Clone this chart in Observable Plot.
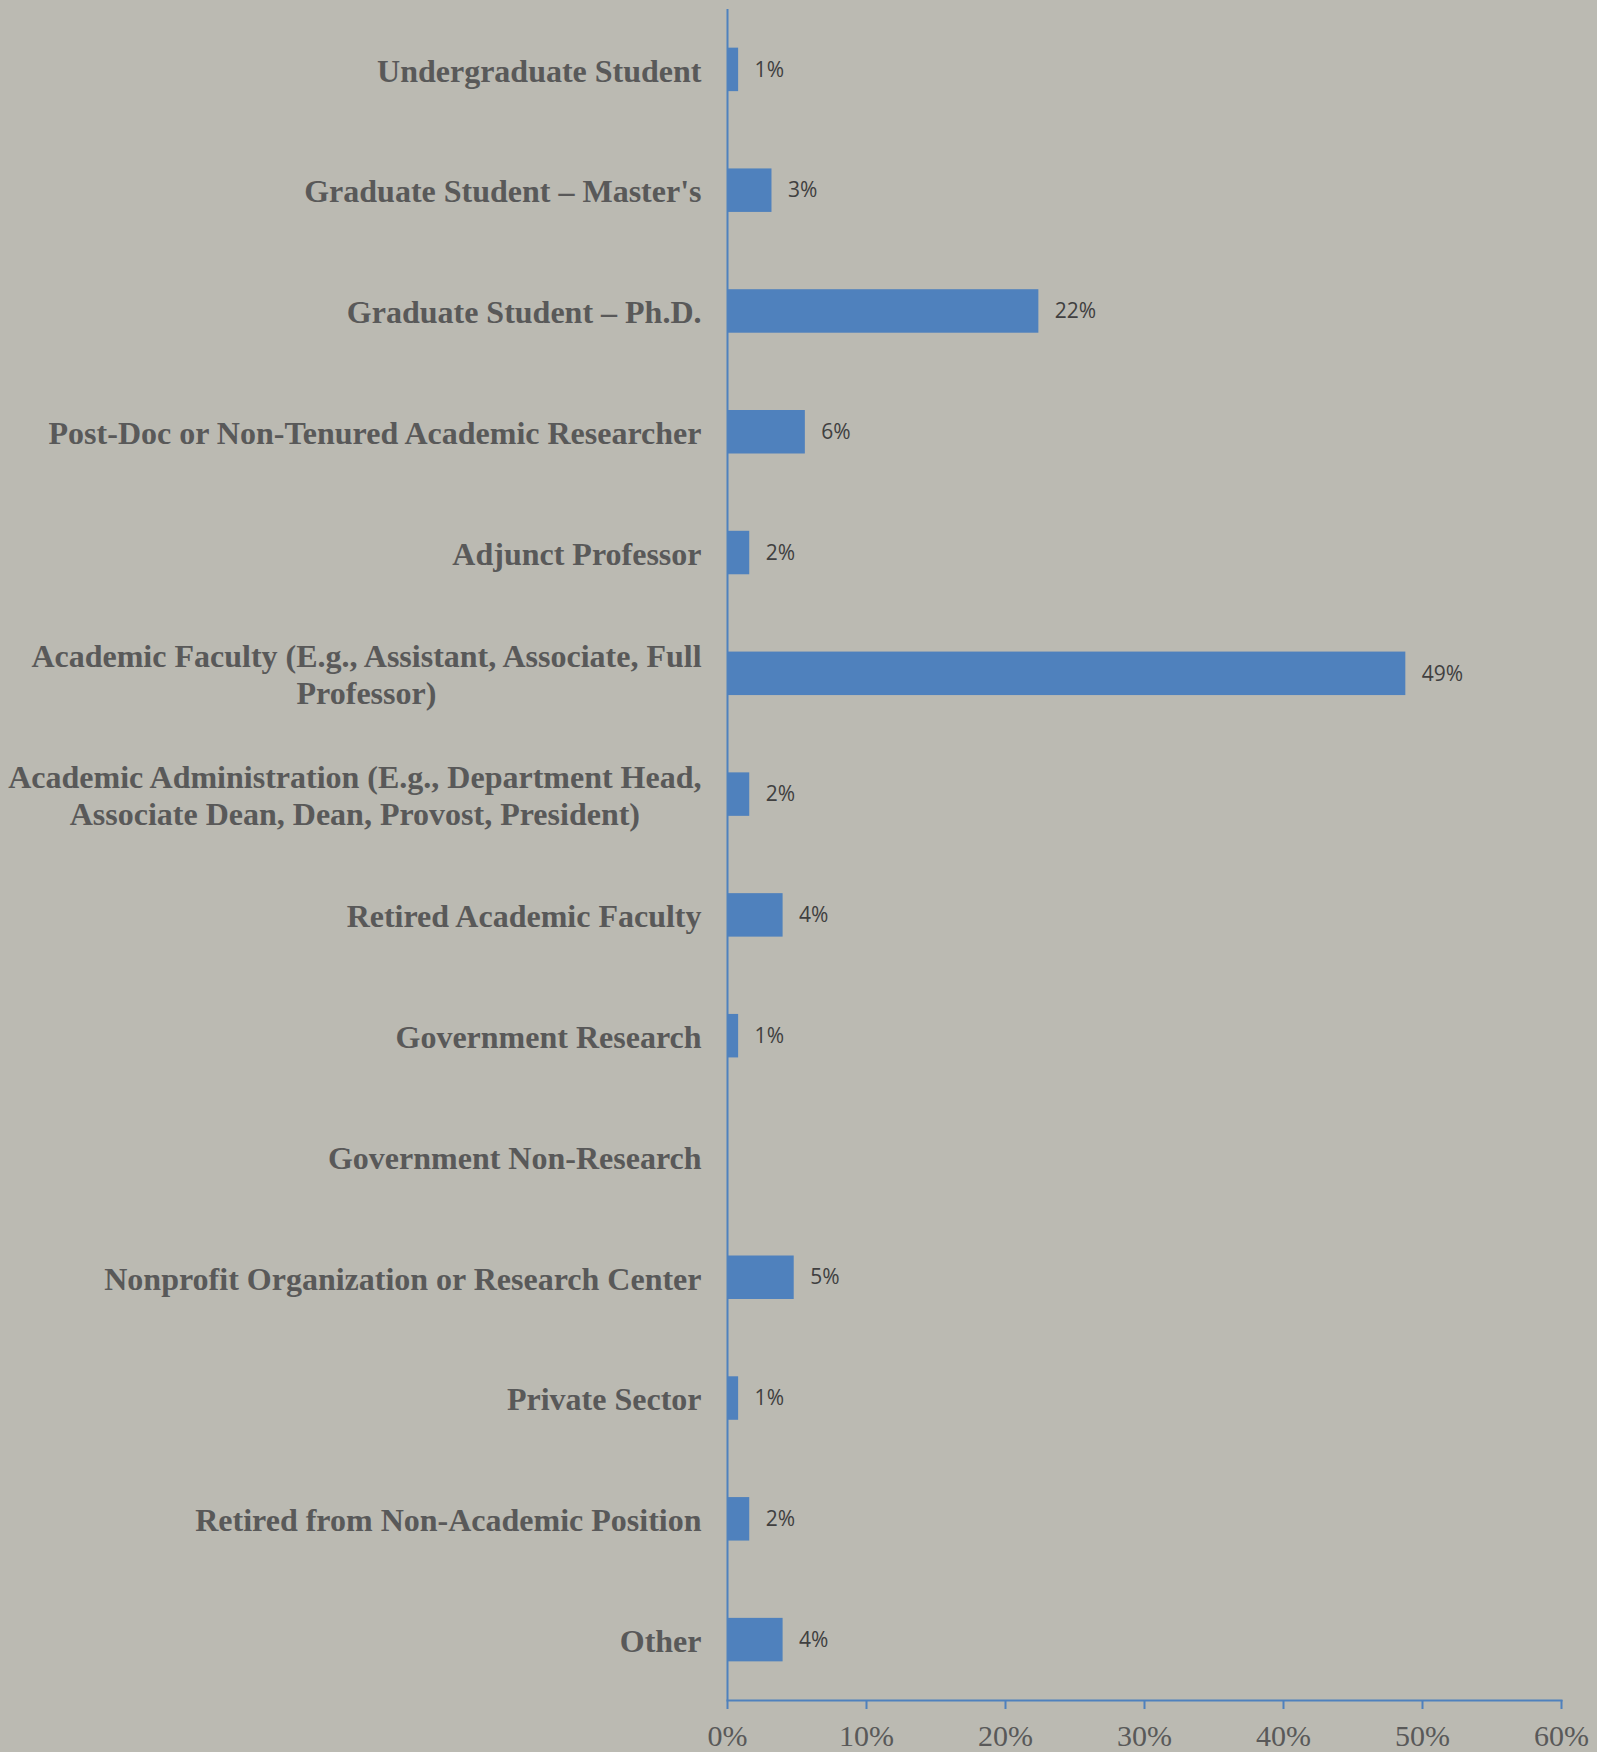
<!DOCTYPE html>
<html>
<head>
<meta charset="utf-8">
<script src="https://cdn.jsdelivr.net/npm/d3@7"></script>
<script src="https://cdn.jsdelivr.net/npm/@observablehq/plot@0.6"></script>
<style>
  html, body { margin: 0; padding: 0; background: #bbbab2; }
  #chart svg { display: block; }
</style>
</head>
<body>
<div id="chart"></div>
<script>
const categories = [
  "Undergraduate Student",
  "Graduate Student \u2013 Master's",
  "Graduate Student \u2013 Ph.D.",
  "Post-Doc or Non-Tenured Academic Researcher",
  "Adjunct Professor",
  "Academic Faculty (E.g., Assistant, Associate, Full\nProfessor)",
  "Academic Administration (E.g., Department Head,\nAssociate Dean, Dean, Provost, President)",
  "Retired Academic Faculty",
  "Government Research",
  "Government Non-Research",
  "Nonprofit Organization or Research Center",
  "Private Sector",
  "Retired from Non-Academic Position",
  "Other"
];
const values = [0.8, 3.2, 22.4, 5.6, 1.6, 48.8, 1.6, 4.0, 0.8, 0, 4.8, 0.8, 1.6, 4.0];
const valueLabels = ["1%", "3%", "22%", "6%", "2%", "49%", "2%", "4%", "1%", "", "5%", "1%", "2%", "4%"];
const xTicks = [0, 10, 20, 30, 40, 50, 60];

const data = categories.map((c, i) => ({category: c, value: values[i], label: valueLabels[i]}));

const blue = "#4f81bd";
const gray = "#595959";

const chart = Plot.plot({
  width: 1597,
  height: 1752,
  marginLeft: 727,
  marginRight: 36,
  marginTop: 9,
  marginBottom: 52,
  style: {background: "#bbbab2", color: gray},
  x: {domain: [0, 60], label: null},
  y: {domain: categories, paddingInner: 0.64, paddingOuter: 0.32, round: false, label: null},
  marks: [
    Plot.barX(data, {x: "value", y: "category", fill: blue}),
    Plot.text(data.filter(d => d.label), {
      x: "value", y: "category", text: "label", textAnchor: "start", dx: 16,
      fontFamily: "Open Sans", fontSize: 21, fill: "#404040"
    }),
    Plot.ruleX([0], {stroke: blue, strokeWidth: 2}),
    Plot.frame({anchor: "bottom", stroke: blue, strokeWidth: 2}),
    Plot.axisX(xTicks, {tickSize: 9, stroke: blue, strokeWidth: 2, tickFormat: () => "", label: null}),
    Plot.axisX(xTicks, {
      tickSize: 0, tickPadding: 24, tickFormat: d => d + "%", label: null,
      fontFamily: "Liberation Serif", fontSize: 30, fill: gray
    }),
    Plot.axisY({
      tickSize: 0, tickPadding: 26, fontFamily: "Liberation Serif", fontSize: 32, label: null,
      fontWeight: "bold", fill: gray, lineHeight: 1.15, textOverflow: null
    })
  ]
});

document.getElementById("chart").append(chart);

// center multi-line category labels on their widest line, keeping the right edge
chart.querySelectorAll("g[aria-label='y-axis tick label'] text").forEach(t => {
  const spans = t.querySelectorAll("tspan");
  if (spans.length > 1) {
    const b = t.getBBox();
    const cx = b.x + b.width / 2;
    t.setAttribute("text-anchor", "middle");
    spans.forEach(s => s.setAttribute("x", cx));
  }
});
</script>
</body>
</html>
